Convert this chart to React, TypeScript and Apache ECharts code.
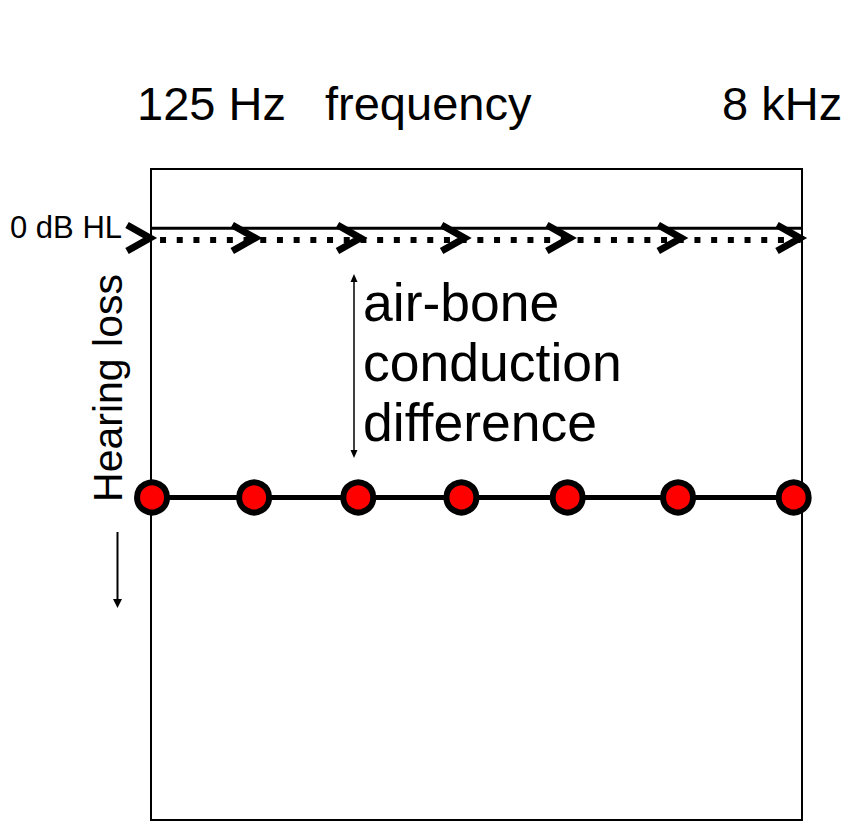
import React, { useEffect, useRef } from "react";
import * as echarts from "echarts";

// x positions in octave units from 125 Hz
const frequencies = ["125", "250", "500", "1k", "2k", "4k", "8k"];
const airX = [0.01, 0.99, 1.99, 2.98, 4.0, 5.06, 6.17];
const airDb = [45.5, 45.5, 45.5, 45.5, 45.5, 45.5, 45.5];
const boneX = [0.01, 1.02, 2.03, 3.03, 4.04, 5.11, 6.25];
const boneDb = [2, 2, 2, 2, 2, 2, 2];
const zeroLineX = [0, 6.25];
const zeroLineDb = [0, 0];

const X_MIN = 0;
const X_MAX = 6.25;
const Y_MIN = -10;
const Y_MAX = 100;

export default function App() {
  const ref = useRef<HTMLDivElement>(null);
  useEffect(() => {
    if (!ref.current) return;
    const chart = echarts.init(ref.current, undefined, { renderer: "svg" });
    const font = "Liberation Sans, Arial, sans-serif";
    chart.setOption({
      animation: false,
      backgroundColor: "#ffffff",
      grid: {
        left: 151,
        top: 169,
        width: 651,
        height: 651,
        show: true,
        borderColor: "#000",
        borderWidth: 2,
        backgroundColor: "transparent",
      },
      xAxis: {
        type: "value",
        min: X_MIN,
        max: X_MAX,
        axisLine: { show: false },
        axisTick: { show: false },
        axisLabel: { show: false },
        splitLine: { show: false },
      },
      yAxis: {
        type: "value",
        inverse: true,
        min: Y_MIN,
        max: Y_MAX,
        axisLine: { show: false },
        axisTick: { show: false },
        axisLabel: { show: false },
        splitLine: { show: false },
      },
      series: [
        {
          name: "0 dB HL",
          type: "line",
          data: zeroLineX.map((x, i) => [x, zeroLineDb[i]]),
          symbol: "none",
          lineStyle: { color: "#000", width: 3 },
          silent: true,
        },
        {
          name: "bone",
          type: "line",
          data: boneX.map((x, i) => [x, boneDb[i]]),
          symbol: "none",
          lineStyle: { color: "#000", width: 6, type: [6, 10.7], cap: "butt", dashOffset: -8 },
          silent: true,
        },
        {
          name: "bone markers",
          type: "custom",
          data: boneX.map((x, i) => [x, boneDb[i]]),
          renderItem: (params: any, api: any) => {
            const p = api.coord([api.value(0), api.value(1)]);
            const tx = p[0] - 2;
            const ty = p[1] - 2;
            return {
              type: "polyline",
              shape: {
                points: [
                  [tx - 23, ty - 13],
                  [tx, ty],
                  [tx - 23, ty + 13],
                ],
              },
              style: { stroke: "#000", lineWidth: 7, fill: "none", lineJoin: "miter" },
            };
          },
          z: 5,
          silent: true,
        },
        {
          name: "air",
          type: "line",
          data: airX.map((x, i) => [x, airDb[i]]),
          symbol: "circle",
          symbolSize: 30,
          itemStyle: { color: "#ff0000", borderColor: "#000", borderWidth: 6 },
          lineStyle: { color: "#000", width: 5 },
          z: 6,
          silent: true,
        },
      ],
      graphic: [
        { type: "text", x: 137, y: 103, style: { text: "125 Hz", font: `47px ${font}`, fill: "#000", verticalAlign: "middle", align: "left" } },
        { type: "text", x: 325, y: 103, style: { text: "frequency", font: `47px ${font}`, fill: "#000", verticalAlign: "middle", align: "left" } },
        { type: "text", x: 722, y: 103, style: { text: "8 kHz", font: `47px ${font}`, fill: "#000", verticalAlign: "middle", align: "left" } },
        { type: "text", x: 10, y: 227, style: { text: "0 dB HL", font: `31px ${font}`, fill: "#000", verticalAlign: "middle", align: "left" } },
        {
          type: "text",
          x: 108,
          y: 388,
          rotation: Math.PI / 2,
          style: { text: "Hearing loss", font: `41px ${font}`, fill: "#000", verticalAlign: "middle", align: "center" },
        },
        { type: "text", x: 363, y: 302, style: { text: "air-bone", font: `53.5px ${font}`, fill: "#000", verticalAlign: "middle", align: "left" } },
        { type: "text", x: 363, y: 362, style: { text: "conduction", font: `53.5px ${font}`, fill: "#000", verticalAlign: "middle", align: "left" } },
        { type: "text", x: 363, y: 422, style: { text: "difference", font: `53.5px ${font}`, fill: "#000", verticalAlign: "middle", align: "left" } },
        // double arrow
        { type: "line", shape: { x1: 354, y1: 280, x2: 354, y2: 452 }, style: { stroke: "#000", lineWidth: 1.5 } },
        { type: "polygon", shape: { points: [[354, 274], [350.5, 282], [357.5, 282]] }, style: { fill: "#000" } },
        { type: "polygon", shape: { points: [[354, 458], [350.5, 450], [357.5, 450]] }, style: { fill: "#000" } },
        // down arrow
        { type: "line", shape: { x1: 117.5, y1: 532, x2: 117.5, y2: 600 }, style: { stroke: "#000", lineWidth: 2 } },
        { type: "polygon", shape: { points: [[117.5, 608], [113, 599], [122, 599]] }, style: { fill: "#000" } },
      ],
    });
    return () => chart.dispose();
  }, []);
  return (
    <div
      ref={ref}
      style={{ position: "fixed", left: 0, top: 0, width: 846, height: 822, background: "#fff" }}
    />
  );
}
